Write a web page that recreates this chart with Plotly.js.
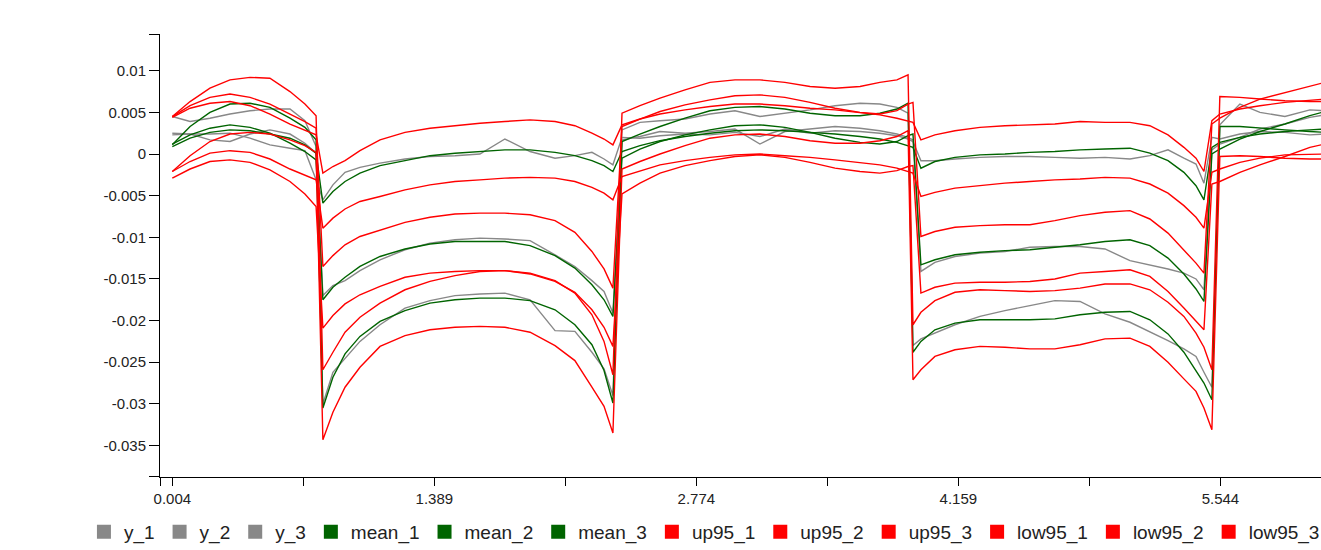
<!DOCTYPE html>
<html>
<head>
<meta charset="utf-8">
<script src="https://cdn.plot.ly/plotly-3.0.1.min.js"></script>
<style>
html, body { margin:0; padding:0; overflow:hidden; background:#fff; }
#chart { width:1430px; height:550px; }
</style>
</head>
<body>
<div id="chart"></div>
<script>
// ---- data ----
var xs = [
  0.004, 0.098, 0.203, 0.309, 0.415, 0.520, 0.626, 0.705, 0.764,
  0.800, 0.853, 0.917, 0.996, 1.102, 1.234, 1.366, 1.498, 1.630, 1.762, 1.895, 2.027, 2.132, 2.222, 2.286, 2.333,
  2.381, 2.476, 2.582, 2.714, 2.846, 2.978, 3.110, 3.242, 3.375, 3.507, 3.639, 3.744, 3.834, 3.893,
  3.919,
  3.961, 4.035, 4.141, 4.273, 4.405, 4.537, 4.669, 4.802, 4.934, 5.066, 5.171, 5.267, 5.351, 5.415, 5.457, 5.499,
  5.541, 5.647, 5.753, 5.885, 6.017, 6.096
];

var y_1 = [
  0.0023, 0.0024, 0.0024, 0.0025, 0.0019, 0.0011, 0.0007, 0.0004, -0.0031,
  -0.0055, -0.0037, -0.0022, -0.0016, -0.0011, -0.0006, -0.0003, -0.0002, 0.0000, 0.0018, 0.0003, -0.0005, -0.0002, 0.0002, -0.0006, -0.0013,
  0.0020, 0.0019, 0.0022, 0.0024, 0.0023, 0.0026, 0.0021, 0.0030, 0.0025, 0.0028, 0.0027, 0.0025, 0.0022, 0.0018,
  0.0015,
  -0.0008, -0.0008, -0.0006, -0.0004, -0.0003, -0.0003, -0.0004, -0.0005, -0.0004, -0.0006, -0.0002, 0.0005, -0.0005, -0.0012, -0.0035, 0.0020,
  0.0018, 0.0024, 0.0027, 0.0026, 0.0023, 0.0024
];
var y_2 = [
  0.0025, 0.0024, 0.0017, 0.0015, 0.0024, 0.0029, 0.0024, 0.0013, 0.0001,
  -0.0170, -0.0158, -0.0152, -0.0140, -0.0127, -0.0115, -0.0107, -0.0103, -0.0101, -0.0102, -0.0104, -0.0121, -0.0135, -0.0152, -0.0165, -0.0191,
  0.0017, 0.0021, 0.0027, 0.0025, 0.0027, 0.0030, 0.0012, 0.0027, 0.0030, 0.0033, 0.0031, 0.0028, 0.0024, 0.0020,
  0.0017,
  -0.0141, -0.0130, -0.0123, -0.0119, -0.0117, -0.0112, -0.0111, -0.0111, -0.0114, -0.0128, -0.0133, -0.0138, -0.0143, -0.0150, -0.0163, 0.0005,
  0.0012, 0.0020, 0.0030, 0.0036, 0.0044, 0.0047
];
var y_3 = [
  0.0045, 0.0039, 0.0043, 0.0048, 0.0052, 0.0054, 0.0054, 0.0040, 0.0009,
  -0.0300, -0.0262, -0.0245, -0.0225, -0.0205, -0.0185, -0.0176, -0.0170, -0.0168, -0.0167, -0.0175, -0.0212, -0.0213, -0.0238, -0.0258, -0.0290,
  0.0029, 0.0038, 0.0040, 0.0042, 0.0048, 0.0052, 0.0045, 0.0049, 0.0053, 0.0058, 0.0061, 0.0060, 0.0056, 0.0049,
  -0.0230,
  -0.0222, -0.0215, -0.0205, -0.0195, -0.0188, -0.0182, -0.0176, -0.0177, -0.0192, -0.0202, -0.0213, -0.0224, -0.0234, -0.0243, -0.0262, -0.0280,
  0.0035, 0.0060, 0.0050, 0.0045, 0.0053, 0.0052
];

var mean_1 = [
  0.0009, 0.0019, 0.0026, 0.0029, 0.0028, 0.0024, 0.0019, 0.0011, 0.0001,
  -0.0059, -0.0045, -0.0033, -0.0023, -0.0014, -0.0008, -0.0002, 0.0001, 0.0003, 0.0005, 0.0005, 0.0002, -0.0002, -0.0008, -0.0014, -0.0021,
  0.0003, 0.0010, 0.0016, 0.0021, 0.0025, 0.0028, 0.0029, 0.0028, 0.0026, 0.0024, 0.0021, 0.0018, 0.0014, 0.0010,
  0.0008,
  -0.0017, -0.0009, -0.0004, -0.0001, 0.0000, 0.0002, 0.0003, 0.0005, 0.0006, 0.0007, 0.0001, -0.0008, -0.0022, -0.0038, -0.0055, 0.0008,
  0.0014, 0.0020, 0.0024, 0.0027, 0.0029, 0.0030
];
var mean_2 = [
  0.0012, 0.0023, 0.0031, 0.0035, 0.0032, 0.0025, 0.0013, 0.0003, -0.0007,
  -0.0175, -0.0160, -0.0148, -0.0135, -0.0123, -0.0114, -0.0108, -0.0105, -0.0105, -0.0105, -0.0110, -0.0122, -0.0137, -0.0157, -0.0175, -0.0195,
  -0.0005, 0.0006, 0.0015, 0.0023, 0.0029, 0.0034, 0.0035, 0.0032, 0.0026, 0.0019, 0.0014, 0.0012, 0.0015, 0.0022,
  0.0024,
  -0.0133, -0.0127, -0.0121, -0.0118, -0.0116, -0.0115, -0.0112, -0.0109, -0.0105, -0.0103, -0.0110, -0.0125, -0.0144, -0.0162, -0.0177, 0.0000,
  0.0006, 0.0018, 0.0027, 0.0036, 0.0046, 0.0051
];
var mean_3 = [
  0.0011, 0.0033, 0.0050, 0.0060, 0.0061, 0.0056, 0.0043, 0.0032, 0.0017,
  -0.0305, -0.0268, -0.0240, -0.0219, -0.0201, -0.0188, -0.0179, -0.0175, -0.0173, -0.0173, -0.0176, -0.0187, -0.0205, -0.0229, -0.0260, -0.0299,
  0.0015, 0.0024, 0.0033, 0.0043, 0.0052, 0.0056, 0.0057, 0.0054, 0.0049, 0.0046, 0.0046, 0.0049, 0.0054, 0.0061,
  -0.0238,
  -0.0225, -0.0211, -0.0203, -0.0199, -0.0199, -0.0199, -0.0198, -0.0193, -0.0190, -0.0189, -0.0199, -0.0216, -0.0238, -0.0260, -0.0275, -0.0295,
  0.0033, 0.0033, 0.0031, 0.0029, 0.0027, 0.0026
];

var up95_1 = [
  0.0044, 0.0055, 0.0061, 0.0063, 0.0058, 0.0048, 0.0036, 0.0029, 0.0023,
  -0.0023, -0.0015, -0.0008, 0.0004, 0.0017, 0.0026, 0.0031, 0.0034, 0.0037, 0.0039, 0.0041, 0.0039, 0.0034, 0.0025, 0.0018, 0.0011,
  0.0035, 0.0042, 0.0048, 0.0053, 0.0057, 0.0060, 0.0060, 0.0058, 0.0055, 0.0053, 0.0050, 0.0047, 0.0043, 0.0040,
  0.0038,
  0.0017, 0.0023, 0.0028, 0.0032, 0.0034, 0.0035, 0.0036, 0.0039, 0.0038, 0.0038, 0.0034, 0.0023, 0.0008, -0.0005, -0.0021, 0.0040,
  0.0048, 0.0054, 0.0058, 0.0062, 0.0065, 0.0066
];
var up95_2 = [
  0.0045, 0.0058, 0.0068, 0.0072, 0.0068, 0.0060, 0.0048, 0.0039, 0.0031,
  -0.0135, -0.0122, -0.0109, -0.0099, -0.0091, -0.0082, -0.0076, -0.0072, -0.0071, -0.0071, -0.0073, -0.0080, -0.0094, -0.0117, -0.0138, -0.0161,
  0.0033, 0.0042, 0.0051, 0.0059, 0.0065, 0.0070, 0.0071, 0.0068, 0.0062, 0.0055, 0.0050, 0.0048, 0.0052, 0.0060,
  0.0062,
  -0.0099, -0.0093, -0.0088, -0.0086, -0.0085, -0.0085, -0.0080, -0.0074, -0.0070, -0.0068, -0.0078, -0.0095, -0.0115, -0.0131, -0.0143, 0.0036,
  0.0043, 0.0056, 0.0066, 0.0074, 0.0082, 0.0086
];
var up95_3 = [
  0.0045, 0.0063, 0.0079, 0.0089, 0.0092, 0.0091, 0.0075, 0.0060, 0.0046,
  -0.0259, -0.0238, -0.0214, -0.0196, -0.0179, -0.0163, -0.0153, -0.0146, -0.0141, -0.0140, -0.0143, -0.0152, -0.0167, -0.0193, -0.0225, -0.0265,
  0.0049, 0.0058, 0.0067, 0.0077, 0.0086, 0.0089, 0.0089, 0.0086, 0.0081, 0.0079, 0.0081, 0.0086, 0.0089, 0.0095,
  -0.0205,
  -0.0190, -0.0176, -0.0166, -0.0163, -0.0164, -0.0165, -0.0164, -0.0161, -0.0156, -0.0156, -0.0163, -0.0178, -0.0195, -0.0215, -0.0232, -0.0259,
  0.0069, 0.0068, 0.0066, 0.0064, 0.0063, 0.0063
];

var low95_1 = [
  -0.0021, -0.0009, 0.0001, 0.0004, 0.0002, -0.0006, -0.0018, -0.0026, -0.0031,
  -0.0089, -0.0077, -0.0066, -0.0057, -0.0051, -0.0043, -0.0037, -0.0033, -0.0031, -0.0029, -0.0028, -0.0029, -0.0033, -0.0040, -0.0047, -0.0055,
  -0.0027, -0.0020, -0.0013, -0.0008, -0.0004, -0.0001, 0.0000, -0.0002, -0.0004, -0.0007, -0.0010, -0.0013, -0.0017, -0.0021,
  -0.0023,
  -0.0051, -0.0046, -0.0041, -0.0038, -0.0035, -0.0033, -0.0031, -0.0030, -0.0028, -0.0029, -0.0036, -0.0047, -0.0062, -0.0076, -0.0089, -0.0022,
  -0.0018, -0.0010, -0.0005, -0.0001, 0.0000, 0.0000
];
var low95_2 = [
  -0.0029, -0.0018, -0.0009, -0.0007, -0.0010, -0.0019, -0.0033, -0.0048, -0.0063,
  -0.0209, -0.0194, -0.0180, -0.0169, -0.0159, -0.0148, -0.0143, -0.0141, -0.0140, -0.0140, -0.0144, -0.0153, -0.0166, -0.0187, -0.0208, -0.0231,
  -0.0048, -0.0035, -0.0023, -0.0014, -0.0008, -0.0003, -0.0001, -0.0004, -0.0010, -0.0017, -0.0021, -0.0023, -0.0020, -0.0015,
  -0.0014,
  -0.0167, -0.0160, -0.0155, -0.0154, -0.0154, -0.0153, -0.0150, -0.0143, -0.0141, -0.0139, -0.0147, -0.0165, -0.0185, -0.0200, -0.0211, -0.0036,
  -0.0033, -0.0022, -0.0013, -0.0003, 0.0008, 0.0012
];
var low95_3 = [
  -0.0021, -0.0002, 0.0015, 0.0024, 0.0026, 0.0024, 0.0017, 0.0010, 0.0002,
  -0.0343, -0.0310, -0.0280, -0.0256, -0.0231, -0.0218, -0.0211, -0.0208, -0.0207, -0.0208, -0.0214, -0.0230, -0.0248, -0.0280, -0.0303, -0.0335,
  -0.0018, -0.0009, 0.0000, 0.0010, 0.0019, 0.0023, 0.0024, 0.0021, 0.0016, 0.0013, 0.0013, 0.0016, 0.0021, 0.0028,
  -0.0271,
  -0.0259, -0.0243, -0.0235, -0.0231, -0.0232, -0.0234, -0.0234, -0.0229, -0.0222, -0.0221, -0.0231, -0.0250, -0.0270, -0.0285, -0.0305, -0.0331,
  -0.0003, -0.0002, -0.0003, -0.0005, -0.0006, -0.0006
];

var seriesNames = ['y_1','y_2','y_3','mean_1','mean_2','mean_3','up95_1','up95_2','up95_3','low95_1','low95_2','low95_3'];
var seriesData  = [y_1, y_2, y_3, mean_1, mean_2, mean_3, up95_1, up95_2, up95_3, low95_1, low95_2, low95_3];

var xTickVals = [0.004, 0.6965, 1.389, 2.0815, 2.774, 3.4665, 4.159, 4.8515, 5.544, 6.2365];
var xTickText = ['0.004', '', '1.389', '', '2.774', '', '4.159', '', '5.544', ''];
var yTickVals = [0.01, 0.005, 0, -0.005, -0.01, -0.015, -0.02, -0.025, -0.03, -0.035];
var yTickText = ['0.01', '0.005', '0', '-0.005', '-0.01', '-0.015', '-0.02', '-0.025', '-0.03', '-0.035'];

// ---- styling ----
function colorFor(name) {
  if (name.indexOf('y_') === 0) return '#888888';
  if (name.indexOf('mean') === 0) return '#006400';
  return '#ff0000';
}
var FONT = 'Liberation Sans, Arial, sans-serif';
var X_RANGE = [-0.061, 6.599];
var Y_RANGE = [-0.03878, 0.01441];

var traces = [];
seriesNames.forEach(function (n, i) {
  traces.push({
    type: 'scatter', mode: 'lines', name: n, x: xs, y: seriesData[i],
    line: { color: colorFor(n), width: 1.4 }, showlegend: false, hoverinfo: 'skip'
  });
});
// legend entries drawn as coloured squares
seriesNames.forEach(function (n) {
  traces.push({
    type: 'scatter', mode: 'markers', name: n, x: [null], y: [null],
    marker: { symbol: 'square', size: 14, color: colorFor(n) }, showlegend: true, hoverinfo: 'skip'
  });
});

// outer end ticks like the original axis paths
var xTV = [X_RANGE[0] + 0.0005].concat(xTickVals);
var xTT = [''].concat(xTickText);
var yTV = [Y_RANGE[1] - 0.00002].concat(yTickVals, [Y_RANGE[0] + 0.00002]);
var yTT = [''].concat(yTickText, ['']);

var layout = {
  width: 1430, height: 550,
  margin: { l: 160, r: 10, t: 34, b: 73 },
  paper_bgcolor: '#fff', plot_bgcolor: '#fff',
  font: { family: FONT, color: '#222' },
  xaxis: {
    range: X_RANGE, showgrid: false, zeroline: false,
    showline: true, linecolor: '#000', linewidth: 1,
    ticks: 'outside', ticklen: 8, tickcolor: '#000', tickwidth: 1,
    tickmode: 'array', tickvals: xTV, ticktext: xTT,
    tickfont: { family: FONT, size: 15, color: '#222' }
  },
  yaxis: {
    range: Y_RANGE, showgrid: false, zeroline: false,
    showline: true, linecolor: '#000', linewidth: 1,
    ticks: 'outside', ticklen: 10, tickcolor: '#000', tickwidth: 1,
    tickmode: 'array', tickvals: yTV, ticktext: yTT,
    tickfont: { family: FONT, size: 15, color: '#222' }
  },
  showlegend: true,
  legend: {
    orientation: 'h', xref: 'container', yref: 'container',
    x: 0.0587, xanchor: 'left', y: 0.033, yanchor: 'middle',
    font: { family: FONT, size: 19, color: '#222' },
    itemsizing: 'trace', traceorder: 'normal', bgcolor: 'rgba(0,0,0,0)'
  }
};

Plotly.newPlot('chart', traces, layout, { displayModeBar: false, staticPlot: true });
</script>
</body>
</html>
